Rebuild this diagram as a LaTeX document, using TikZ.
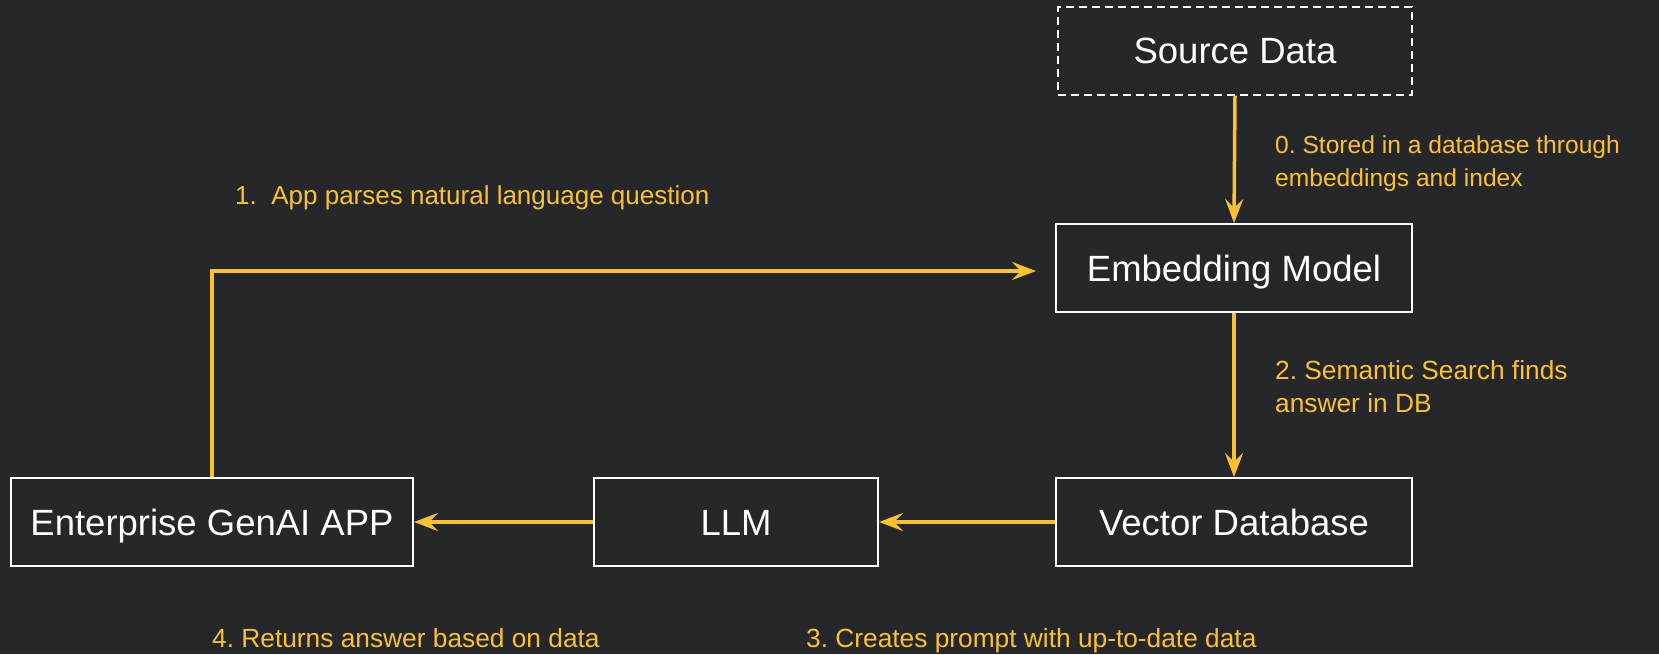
\documentclass[tikz,border=0pt]{standalone}
\usepackage{fontspec}
\setmainfont{Liberation Sans}
\usetikzlibrary{arrows.meta}
\frenchspacing
\definecolor{bgc}{RGB}{38,39,42}
\definecolor{yel}{RGB}{252,194,46}
\tikzset{
  box/.style={draw=white, line width=2pt, fill=bgc, text=white, minimum height=88pt,
    inner sep=0pt, text height=26pt, text depth=0pt, font=\fontsize{36.5}{40}\selectfont},
  dbox/.style={box, dash pattern=on 8pt off 5pt},
  conn/.style={draw=yel, line width=3.5pt, -{Stealth[length=24pt,width=18pt,inset=9pt]}},
  lbl/.style={text=yel, inner sep=0pt, anchor=west, align=left, font=\fontsize{26}{33}\selectfont},
  slbl/.style={lbl, text height=19pt, text depth=6pt}
}
\begin{document}
\begin{tikzpicture}[x=1pt,y=-1pt]
\fill[bgc] (0,0) rectangle (1659,654);
\useasboundingbox (0,0) rectangle (1659,654);
\node[dbox, minimum width=354pt] (src) at (1235,50.5) {Source Data};
\node[box, minimum width=356pt] (emb) at (1234,268) {Embedding Model};
\node[box, minimum width=356pt] (vec) at (1234,522) {Vector Database};
\node[box, minimum width=284pt] (llm) at (736,522) {LLM};
\node[box, minimum width=402pt] (app) at (212,522) {Enterprise GenAI APP};
\coordinate (corner) at (212,271);
\draw[conn] (src.south) -- (emb.north);
\draw[conn] (emb.south) -- (vec.north);
\draw[conn] (vec.west) -- (llm.east);
\draw[conn] (llm.west) -- (app.east);
\draw[conn, shorten >=19pt] (app.north) -- (corner) -- (emb.west |- corner);
\node[lbl, font=\fontsize{24.6}{33}\selectfont] (l0) at (1275,163.5) {0. Stored in a database through\\embeddings and index};
\node[slbl] (l1) at (235,198) {1.\ \ App parses natural language question};
\node[lbl, font=\fontsize{26.3}{33}\selectfont] (l2) at (1275,387) {2. Semantic Search finds\\answer in DB};
\node[slbl, font=\fontsize{26.3}{33}\selectfont] (l3) at (806,641) {3. Creates prompt with up-to-date data};
\node[slbl, font=\fontsize{26.3}{33}\selectfont] (l4) at (212,641) {4. Returns answer based on data};
\end{tikzpicture}
\end{document}
